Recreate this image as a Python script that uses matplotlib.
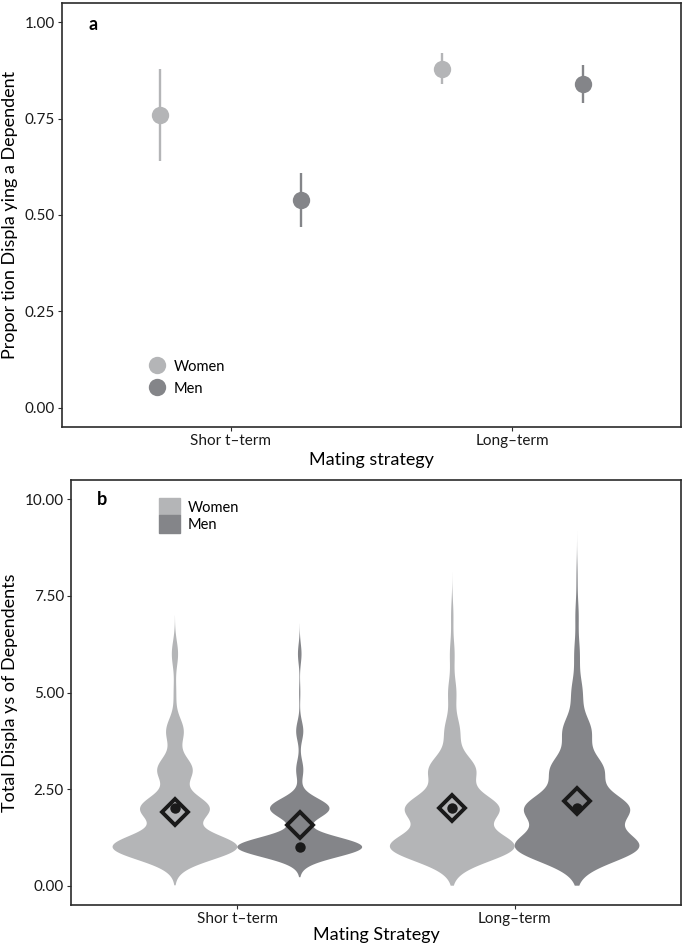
import matplotlib
matplotlib.use("Agg")
import matplotlib.pyplot as plt
import matplotlib.patches as mpatches
from matplotlib.lines import Line2D
import numpy as np

plt.rcParams["font.family"] = ["Lato", "DejaVu Sans"]

# Données
strategies = ["Shor t\u2013term", "Long\u2013term"]
sexes = ["Women", "Men"]

# panneau a : proportion + IC
women_prop = [0.76, 0.88]
women_lo = [0.64, 0.84]
women_hi = [0.88, 0.92]
men_prop = [0.54, 0.84]
men_lo = [0.47, 0.79]
men_hi = [0.61, 0.89]

# panneau b : effectifs par nombre de displays (0..8)
displays = [0, 1, 2, 3, 4, 5, 6, 7, 8]
women_short_n = [0, 100, 55, 28, 14, 2, 5, 0, 0]
men_short_n = [0, 105, 50, 6, 6, 1, 3, 0, 0]
women_long_n = [0, 108, 80, 40, 13, 7, 4, 2, 0]
men_long_n = [0, 115, 95, 48, 26, 10, 5, 3, 1]
# largeur de bande du noyau, par groupe
bandwidths = [0.33, 0.26, 0.37, 0.39]

women_col = "#b4b5b7"
men_col = "#848589"
frame_col = "#2b2b2b"

fig = plt.figure(figsize=(6.85, 9.44), dpi=100)
ax_a = fig.add_axes([0.0905, 0.5477, 0.9037, 0.4491])
ax_b = fig.add_axes([0.1036, 0.0413, 0.8906, 0.4502])

x = np.arange(1, len(strategies) + 1)

# ---- panneau a
dodge_a = 0.25
for vals, lo, hi, col, off in [(women_prop, women_lo, women_hi, women_col, -dodge_a),
                               (men_prop, men_lo, men_hi, men_col, dodge_a)]:
    ax_a.vlines(x + off, lo, hi, color=col, lw=1.7)
    ax_a.plot(x + off, vals, "o", color=col, ms=12.5, mec="none", ls="none")

ax_a.set_ylim(-0.05, 1.05)
ax_a.set_yticks([0, 0.25, 0.5, 0.75, 1.0])
ax_a.set_yticklabels([f"{v:.2f}" for v in [0, 0.25, 0.5, 0.75, 1.0]])
ax_a.set_ylabel("Propor tion Displa ying a Dependent", fontsize=13, labelpad=5)
ax_a.set_xlabel("Mating strategy", fontsize=13, labelpad=3)
ax_a.text(0.043, 0.95, "a", transform=ax_a.transAxes, fontsize=13, fontweight="bold", va="center")

handles_a = [Line2D([], [], marker="o", ls="none", color=women_col, ms=12.5, mec="none"),
             Line2D([], [], marker="o", ls="none", color=men_col, ms=12.5, mec="none")]
ax_a.legend(handles_a, sexes, loc="upper left", bbox_to_anchor=(0.115, 0.19), frameon=False,
            fontsize=10.5, handletextpad=0.4, labelspacing=0.55, handlelength=1.5)

# ---- panneau b
dodge_b = 0.225
groups = [(women_short_n, 1 - dodge_b, women_col),
          (men_short_n, 1 + dodge_b, men_col),
          (women_long_n, 2 - dodge_b, women_col),
          (men_long_n, 2 + dodge_b, men_col)]

for (counts, pos, col), bw in zip(groups, bandwidths):
    data = np.repeat(displays, counts).astype(float)
    lo = max(0.0, data.min() - 3 * bw)
    hi = data.max() + 3 * bw
    coords = np.linspace(lo, hi, 400)
    dens = np.exp(-0.5 * ((coords[:, None] - data[None, :]) / bw) ** 2).sum(axis=1)
    stats = [dict(coords=coords, vals=dens, mean=data.mean(), median=np.median(data),
                  min=lo, max=hi)]
    parts = ax_b.violin(stats, positions=[pos], widths=0.45, showextrema=False)
    for body in parts["bodies"]:
        body.set_facecolor(col)
        body.set_edgecolor("none")
        body.set_alpha(1)
    ax_b.plot(pos, np.median(data), "o", color="#1a1a1a", ms=7.5, mec="none", zorder=3)
    ax_b.plot(pos, data.mean(), "D", mfc="none", mec="#1a1a1a", mew=2.8, ms=13, zorder=4)

ax_b.set_ylim(-0.5, 10.5)
ax_b.set_yticks([0, 2.5, 5, 7.5, 10])
ax_b.set_yticklabels([f"{v:.2f}" for v in [0, 2.5, 5, 7.5, 10]])
ax_b.set_ylabel("Total Displa ys of Dependents", fontsize=13, labelpad=5)
ax_b.set_xlabel("Mating Strategy", fontsize=13, labelpad=1)
ax_b.text(0.043, 0.955, "b", transform=ax_b.transAxes, fontsize=13, fontweight="bold", va="center")

handles_b = [mpatches.Patch(color=women_col), mpatches.Patch(color=men_col)]
ax_b.legend(handles_b, sexes, loc="upper left", bbox_to_anchor=(0.125, 0.985), frameon=False,
            fontsize=10.5, handlelength=1.45, handleheight=1.45, labelspacing=0,
            handletextpad=0.55, borderpad=0.3)

for ax in (ax_a, ax_b):
    ax.set_xlim(0.4, 2.6)
    ax.set_xticks(x)
    ax.set_xticklabels(strategies)
    for s in ax.spines.values():
        s.set_color(frame_col)
        s.set_linewidth(1.2)
    ax.tick_params(direction="out", length=3, width=0.8, color=frame_col,
                   labelsize=11, labelcolor="#1a1a1a", pad=2)

fig.savefig("out.png", dpi=100)
